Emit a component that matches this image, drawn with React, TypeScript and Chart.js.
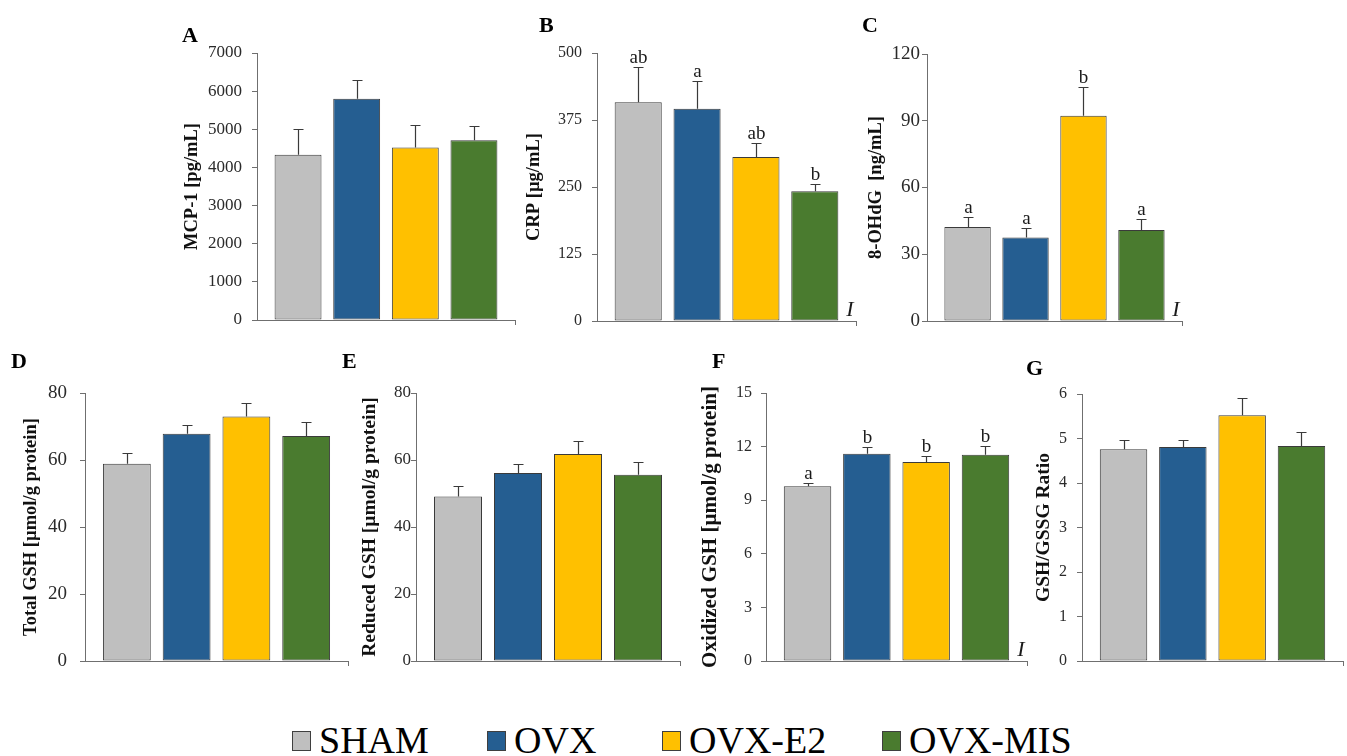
import React, { useEffect, useRef } from 'react';
import { Chart, registerables } from 'chart.js';

Chart.register(...registerables);

// ---------------- data ----------------
const groups = ['SHAM', 'OVX', 'OVX-E2', 'OVX-MIS'];

const mcp1Mean = [4330, 5800, 4520, 4715];
const mcp1Err = [680, 500, 595, 360];

const crpMean = [408, 396, 306, 242];
const crpErr = [66, 51, 27, 14];
const crpLetters = ['ab', 'a', 'ab', 'b'];

const ohdgMean = [42.2, 37.5, 92.2, 40.9];
const ohdgErr = [4.5, 4.2, 12.9, 5.0];
const ohdgLetters = ['a', 'a', 'b', 'a'];

const totalGshMean = [58.9, 67.8, 73.0, 67.2];
const totalGshErr = [3.1, 2.7, 4.0, 4.1];

const reducedGshMean = [49.1, 56.1, 61.8, 55.6];
const reducedGshErr = [3.0, 2.6, 4.0, 3.8];

const oxidizedGshMean = [9.78, 11.6, 11.14, 11.55];
const oxidizedGshErr = [0.2, 0.38, 0.33, 0.48];
const oxidizedGshLetters = ['a', 'b', 'b', 'b'];

const ratioMean = [4.76, 4.81, 5.52, 4.83];
const ratioErr = [0.2, 0.16, 0.38, 0.31];

// ---------------- styles ----------------
const groupColors = ['#BFBFBF', '#255E91', '#FFC000', '#4A7B2F'];
const serif = '"Liberation Serif", "Times New Roman", serif';
const axisColor = '#6f6f6f';
const tickColor = '#2a2a2a';
const barBorder = '#3a3a3a';

type PanelCfg = {
  key: string;
  title: string;
  means: number[];
  errs: number[];
  letters?: string[];
  markI?: boolean;
  max: number;
  step: number;
  L: number;
  R: number;
  T: number;
  B: number;
  titleOff: number;
  titleSize: number;
  tickSize: number;
  tickPad: number;
  labelX: number;
  labelBase: number;
};

const panels: PanelCfg[] = [
  { key: 'A', title: 'MCP-1 [pg/mL]', means: mcp1Mean, errs: mcp1Err, max: 7000, step: 1000,
    L: 257, R: 515, T: 53, B: 320, titleOff: 65, titleSize: 18.5, tickSize: 17, tickPad: 10, labelX: 183, labelBase: 42 },
  { key: 'B', title: 'CRP [µg/mL]', means: crpMean, errs: crpErr, letters: crpLetters, markI: true, max: 500, step: 125,
    L: 597, R: 856, T: 53, B: 321, titleOff: 63, titleSize: 18.5, tickSize: 16, tickPad: 10, labelX: 540, labelBase: 32 },
  { key: 'C', title: '8-OHdG  [ng/mL]', means: ohdgMean, errs: ohdgErr, letters: ohdgLetters, markI: true, max: 120, step: 30,
    L: 927, R: 1182, T: 54, B: 321, titleOff: 51, titleSize: 18.5, tickSize: 19, tickPad: 2, labelX: 863, labelBase: 32 },
  { key: 'D', title: 'Total GSH [µmol/g protein]', means: totalGshMean, errs: totalGshErr, max: 80, step: 20,
    L: 85, R: 348, T: 393, B: 661, titleOff: 54, titleSize: 18.5, tickSize: 19, tickPad: 13, labelX: 12, labelBase: 368 },
  { key: 'E', title: 'Reduced GSH [µmol/g protein]', means: reducedGshMean, errs: reducedGshErr, max: 80, step: 20,
    L: 416, R: 680, T: 393, B: 661, titleOff: 46, titleSize: 19.5, tickSize: 17, tickPad: 0, labelX: 343, labelBase: 368 },
  { key: 'F', title: 'Oxidized GSH [µmol/g protein]', means: oxidizedGshMean, errs: oxidizedGshErr, letters: oxidizedGshLetters, markI: true, max: 15, step: 3,
    L: 766, R: 1027, T: 393, B: 661, titleOff: 55, titleSize: 21, tickSize: 16, tickPad: 9, labelX: 713, labelBase: 368 },
  { key: 'G', title: 'GSH/GSSG Ratio', means: ratioMean, errs: ratioErr, max: 6, step: 1,
    L: 1082, R: 1343, T: 394, B: 661, titleOff: 38, titleSize: 19.5, tickSize: 16, tickPad: 10, labelX: 1027, labelBase: 375 },
];

function annotPlugin(p: PanelCfg) {
  return {
    id: 'annot' + p.key,
    afterDatasetsDraw(chart: any) {
      const { ctx } = chart;
      const x = chart.scales.x;
      const y = chart.scales.y;
      ctx.save();
      ctx.strokeStyle = '#3a3a3a';
      ctx.lineWidth = 1.2;
      ctx.fillStyle = '#1a1a1a';
      ctx.font = `19px ${serif}`;
      ctx.textAlign = 'center';
      ctx.textBaseline = 'alphabetic';
      p.means.forEach((m, i) => {
        const px = Math.round(x.getPixelForValue(i)) + 0.5;
        const y0 = y.getPixelForValue(m);
        const y1 = Math.round(y.getPixelForValue(m + p.errs[i])) + 0.5;
        ctx.beginPath();
        ctx.moveTo(px, y0);
        ctx.lineTo(px, y1);
        ctx.moveTo(px - 5, y1);
        ctx.lineTo(px + 5, y1);
        ctx.stroke();
        if (p.letters) {
          ctx.fillText(p.letters[i], px, y1 - 5);
        }
      });
      if (p.markI) {
        ctx.font = `italic 22px ${serif}`;
        ctx.fillText('I', x.right - 6, y.bottom - 5);
      }
      ctx.restore();
    },
  };
}

function Panel({ p }: { p: PanelCfg }) {
  const ref = useRef<HTMLCanvasElement>(null);
  const padV = Math.ceil(p.tickSize * 0.6 + p.tickPad) + 3;
  const padT = padV;
  const padB = padV;
  const padR = 4;
  const lh = p.titleSize * 1.2;
  const W = Math.round(p.titleOff + lh / 2);
  const left = p.L - W;
  const top = p.T - padT;
  const width = p.R + padR - left;
  const height = p.B + padB - top;

  useEffect(() => {
    const chart = new Chart(ref.current as HTMLCanvasElement, {
      type: 'bar',
      data: {
        labels: groups,
        datasets: [
          {
            label: p.title,
            data: p.means.map((v, i) => ({ x: i, y: v })) as any,
            backgroundColor: groupColors,
            borderColor: barBorder,
            borderWidth: 1,
            borderSkipped: false,
            categoryPercentage: 1,
            barPercentage: 0.8,
          },
        ],
      },
      options: {
        responsive: false,
        animation: false,
        devicePixelRatio: 1,
        layout: { padding: { top: padT, right: padR, bottom: padB, left: 0 } },
        plugins: { legend: { display: false }, tooltip: { enabled: false } },
        scales: {
          x: {
            type: 'linear',
            offset: false,
            min: -0.7,
            max: 3.7,
            afterBuildTicks: (s: any) => {
              s.ticks = [{ value: s.max }];
            },
            afterFit: (s: any) => {
              s.height = 0;
            },
            ticks: { display: false },
            grid: { display: true, offset: false, drawOnChartArea: false, drawTicks: true, tickLength: 5, color: axisColor },
            border: { display: true, color: axisColor, width: 1 },
          },
          y: {
            min: 0,
            max: p.max,
            afterFit: (s: any) => {
              s.width = W;
            },
            ticks: {
              stepSize: p.step,
              padding: p.tickPad,
              color: tickColor,
              font: { family: serif, size: p.tickSize },
              callback: (v: any) => String(v),
            },
            grid: { display: true, drawOnChartArea: false, drawTicks: true, tickLength: 5, color: axisColor },
            border: { display: true, color: axisColor, width: 1 },
            title: {
              display: true,
              text: p.title,
              color: '#111111',
              padding: 0,
              font: { family: serif, size: p.titleSize, weight: 'bold' },
            },
          },
        },
      } as any,
      plugins: [annotPlugin(p)],
    });
    return () => chart.destroy();
  }, []);

  return (
    <canvas
      ref={ref}
      width={width}
      height={height}
      style={{ position: 'absolute', left, top, width, height }}
    />
  );
}

const legendLeft = [292, 487, 662, 882];

export default function App() {
  return (
    <div
      style={{
        position: 'absolute',
        left: 0,
        top: 0,
        width: 1347,
        height: 756,
        background: '#ffffff',
        overflow: 'hidden',
        fontFamily: serif,
      }}
    >
      {panels.map((p) => (
        <Panel key={p.key} p={p} />
      ))}
      {panels.map((p) => (
        <div
          key={'lbl' + p.key}
          style={{
            position: 'absolute',
            left: p.labelX - 1,
            top: p.labelBase - 18.5,
            fontSize: 22,
            lineHeight: '22px',
            fontWeight: 'bold',
            color: '#000',
          }}
        >
          {p.key}
        </div>
      ))}
      {groups.map((g, i) => (
        <React.Fragment key={g}>
          <div
            style={{
              position: 'absolute',
              left: legendLeft[i],
              top: 731,
              width: 19,
              height: 20,
              boxSizing: 'border-box',
              background: groupColors[i],
              border: '1px solid #3f3f3f',
            }}
          />
          <div
            style={{
              position: 'absolute',
              left: legendLeft[i] + 27,
              top: 721,
              fontSize: 38,
              lineHeight: '38px',
              color: '#000',
              whiteSpace: 'nowrap',
            }}
          >
            {g}
          </div>
        </React.Fragment>
      ))}
    </div>
  );
}
